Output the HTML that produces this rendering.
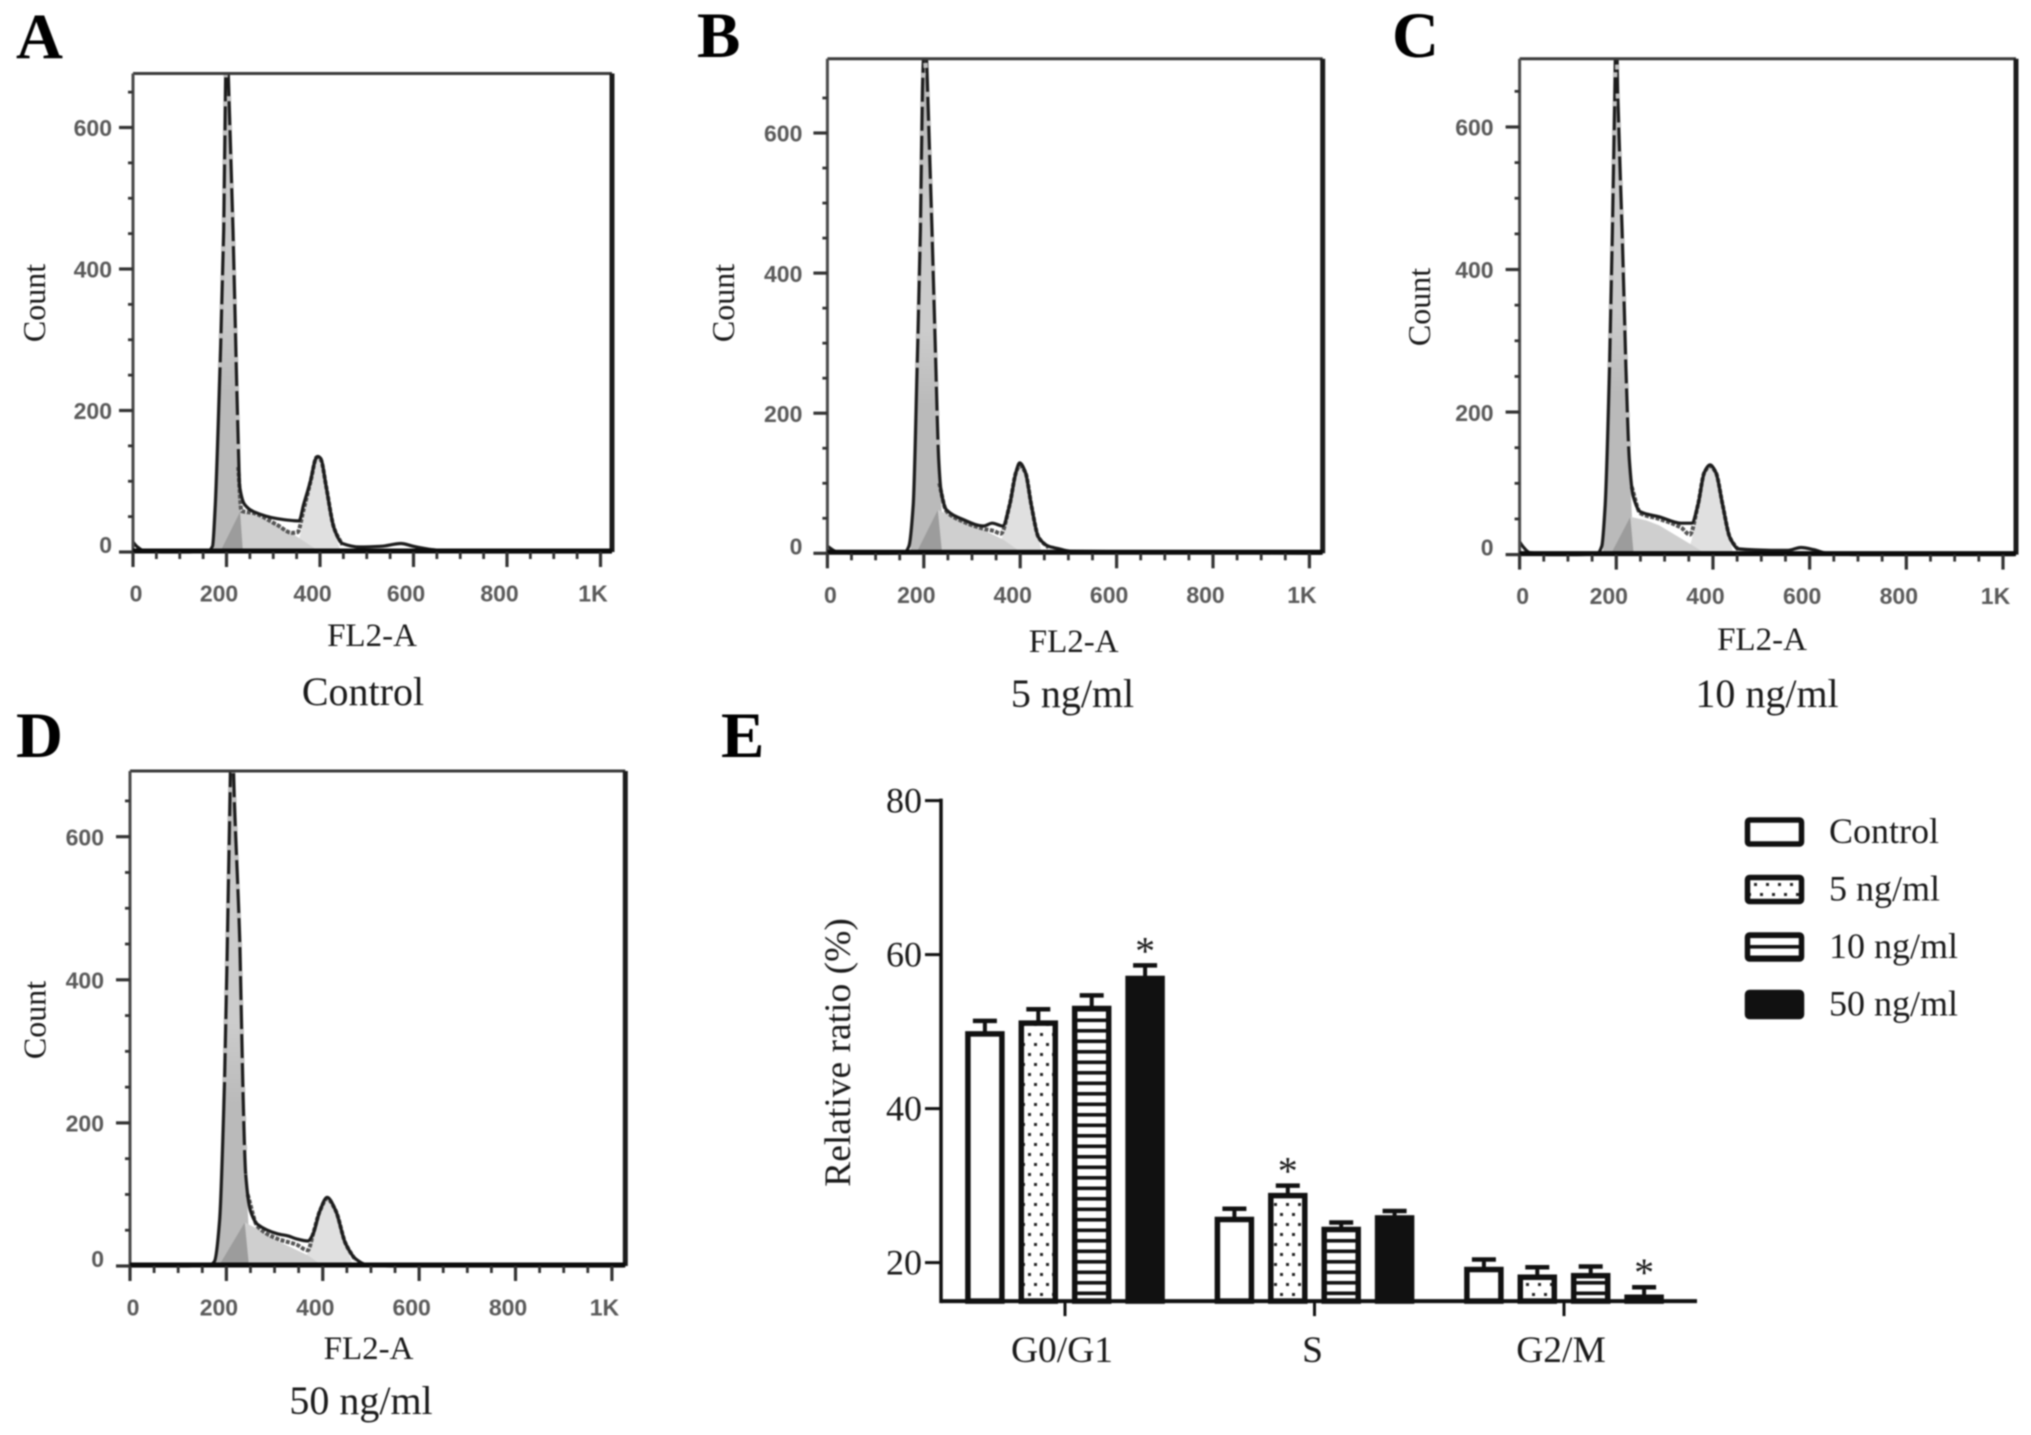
<!DOCTYPE html>
<html lang="en">
<head>
<meta charset="utf-8">
<title>Cell cycle flow cytometry figure</title>
<style>
html,body{margin:0;padding:0;background:#fff;}
#figure{position:absolute;left:0;top:0;display:block;filter:blur(0.7px);}
text{font-family:"Liberation Serif",serif;fill:#1a1a1a;}
.tick{font-family:"Liberation Sans",sans-serif;font-weight:bold;font-size:23px;fill:#5a5a5a;}
</style>
</head>
<body>
<svg id="figure" xmlns="http://www.w3.org/2000/svg" width="2031" height="1435" viewBox="0 0 2031 1435">
<defs>
<pattern id="dots" patternUnits="userSpaceOnUse" width="12" height="20">
<rect x="2" y="3" width="3" height="3" fill="#222"></rect>
<rect x="8" y="13" width="3" height="3" fill="#222"></rect>
</pattern>
<pattern id="stripes" patternUnits="userSpaceOnUse" width="10" height="10.5">
<rect x="0" y="0" width="10" height="3.6" fill="#111"></rect>
</pattern>
<linearGradient id="g1-shade" x1="0" y1="0" x2="0" y2="1">
<stop offset="0" stop-color="#aaa"></stop>
<stop offset="0.3" stop-color="#cccccc"></stop>
<stop offset="0.55" stop-color="#cccccc"></stop>
<stop offset="0.7" stop-color="#bababa"></stop>
<stop offset="1" stop-color="#bababa"></stop>
</linearGradient>
</defs>
<rect x="0" y="0" width="2031" height="1435" fill="#fff"></rect>
</svg>
<script>
// ---------- Histogram data: panel A (Control) ----------
const controlHistChannel = [0,8,25,60,120,160,170,176,186,194,198,200,204,214,221,226,228,239,258,309,355,365,379,391,395,402,413,430,448,485,530,573,600,633,700,1024];
const controlHistCount = [14,8,1,0,0,1,8,67,261,456,670,760,670,456,261,132,93,67,57,47,44,67,99,132,135,132,93,34,12,7,8,12,8,4,0,0];
const controlFitChannel = [225,232,258,309,340,352,365,380,393,402,413,430,448];
const controlFitCount = [120,58,55,38,27,28,60,100,134,130,93,34,10];
const controlG1Channel = [172,178,186,194,198,200,204,214,221,226,232,240];
const controlG1Count = [0,67,261,456,670,760,670,456,261,132,45,0];
const controlSChannel = [186,229,262,314,350,396];
const controlSCount = [0,57,52,38,22,2];
const controlOverlapChannel = [186,229,235];
const controlOverlapCount = [0,57,0];
const controlG2Channel = [345,360,375,385,393,400,413,430,445];
const controlG2Count = [0,30,85,120,134,125,90,30,0];

// ---------- Panel B (5 ng/ml) ----------
const dose5HistChannel = [0,20,60,120,160,169,178,186,193,197,200,205,208,217,225,231,236,247,279,324,342,364,378,391,399,411,423,438,459,477,504,1024];
const dose5HistCount = [10,2,0,0,1,10,69,265,462,659,710,710,659,462,265,134,88,62,49,39,43,39,69,115,129,115,69,23,10,7,3,0];
const dose5FitChannel = [232,247,279,324,345,360,378,391,399,411,423,438,459];
const dose5FitCount = [100,60,46,35,32,28,69,115,125,115,69,23,8];
const dose5G1Channel = [172,178,186,193,197,202,208,217,225,231,238,246];
const dose5G1Count = [0,69,265,462,659,710,659,462,265,134,50,0];
const dose5SChannel = [184,229,262,306,364,405];
const dose5SCount = [0,62,52,39,20,0];
const dose5OverlapChannel = [184,229,238];
const dose5OverlapCount = [0,62,0];
const dose5G2Channel = [350,364,378,391,399,411,423,438,445];
const dose5G2Count = [0,26,69,115,129,115,69,23,0];

// ---------- Panel C (10 ng/ml) ----------
const dose10HistChannel = [0,6,20,60,120,160,170,177,186,192,197,200,203,212,220,227,235,250,289,334,356,369,382,394,406,420,435,453,520,555,582,608,635,700,1024];
const dose10HistCount = [18,12,3,0,0,1,12,70,263,456,649,760,649,456,263,134,82,60,53,44,44,70,115,126,115,70,24,8,6,6,10,7,2,0,0];
const dose10FitChannel = [232,250,289,334,352,369,382,394,406,420,435,453];
const dose10FitCount = [95,58,50,38,28,70,115,124,115,70,24,6];
const dose10G1Channel = [172,177,186,192,197,200,203,212,220,227,233,240];
const dose10G1Count = [0,70,263,456,649,760,649,456,263,134,45,0];
const dose10SChannel = [188,229,262,289,360,387];
const dose10SCount = [0,53,48,41,12,0];
const dose10OverlapChannel = [188,229,236];
const dose10OverlapCount = [0,53,0];
const dose10G2Channel = [345,356,369,382,394,406,420,435,442];
const dose10G2Count = [0,21,70,115,126,115,70,24,0];

// ---------- Panel D (50 ng/ml) ----------
const dose50HistChannel = [0,60,120,165,175,186,196,202,207,211,217,228,234,240,250,265,306,328,345,369,380,394,409,427,447,468,490,540,1024];
const dose50HistCount = [0,0,0,1,6,64,257,449,642,760,642,449,257,128,77,58,45,42,38,35,45,77,96,77,32,10,2,0,0];
const dose50FitChannel = [244,265,306,345,369,380,394,409,427,447,468];
const dose50FitCount = [100,55,38,30,22,45,77,94,77,32,8];
const dose50G1Channel = [178,186,196,202,207,211,217,228,234,240,247,255];
const dose50G1Count = [0,64,257,449,642,760,642,449,257,128,45,0];
const dose50SChannel = [184,238,270,306,369,400];
const dose50SCount = [0,61,50,35,15,0];
const dose50OverlapChannel = [184,238,247];
const dose50OverlapCount = [0,61,0];
const dose50G2Channel = [355,369,380,394,409,427,447,463];
const dose50G2Count = [0,19,45,77,96,77,32,0];

// ---------- Histogram axis ticks ----------
const histXTicks = [0,200,400,600,800,1000];
const histXTickLabels = ["0","200","400","600","800","1K"];
const histYTicks = [0,200,400,600];
const histYTickLabels = ["0","200","400","600"];

// ---------- Bar chart data (panel E) ----------
const phases = ["G0/G1","S","G2/M"];
const doses = ["Control","5 ng/ml","10 ng/ml","50 ng/ml"];
const controlRatio = [49.7,25.6,19.1];
const dose5Ratio = [51.1,28.7,18.1];
const dose10Ratio = [53.0,24.3,18.3];
const dose50Ratio = [56.9,25.8,15.5];
const controlError = [1.7,1.4,1.3];
const dose5Error = [1.8,1.3,1.3];
const dose10Error = [1.7,0.9,1.2];
const dose50Error = [1.7,0.9,1.3];
const controlSignificant = [false,false,false];
const dose5Significant = [false,true,false];
const dose10Significant = [false,false,false];
const dose50Significant = [true,false,true];
const ratioTicks = [20,40,60,80];

const NS = "http://www.w3.org/2000/svg";
const root = document.getElementById("figure");

function make(tag, attrs, parent, text) {
  const node = document.createElementNS(NS, tag);
  for (const k in attrs) node.setAttribute(k, attrs[k]);
  if (text !== undefined) node.textContent = text;
  (parent || root).appendChild(node);
  return node;
}

// Monotone cubic path through the data points: rounds peaks without overshoot.
function curveFrom(channels, counts, sx, sy) {
  const xs = channels.map(sx);
  const ys = counts.map(sy);
  const n = xs.length;
  const slopes = [];
  for (let i = 0; i < n - 1; i++) slopes.push((ys[i + 1] - ys[i]) / Math.max(0.001, xs[i + 1] - xs[i]));
  const tangents = [];
  for (let i = 0; i < n; i++) {
    if (i === 0) tangents.push(slopes[0]);
    else if (i === n - 1) tangents.push(slopes[n - 2]);
    else if (slopes[i - 1] * slopes[i] <= 0) tangents.push(0);
    else tangents.push(2 * slopes[i - 1] * slopes[i] / (slopes[i - 1] + slopes[i]));
  }
  let d = "M" + xs[0].toFixed(1) + " " + ys[0].toFixed(1);
  for (let i = 0; i < n - 1; i++) {
    const h = (xs[i + 1] - xs[i]) / 3;
    d += "C" + (xs[i] + h).toFixed(1) + " " + (ys[i] + tangents[i] * h).toFixed(1) + " " +
         (xs[i + 1] - h).toFixed(1) + " " + (ys[i + 1] - tangents[i + 1] * h).toFixed(1) + " " +
         xs[i + 1].toFixed(1) + " " + ys[i + 1].toFixed(1);
  }
  return d;
}

function pointsFrom(channels, counts, sx, sy) {
  return channels.map(function (c, i) { return sx(c).toFixed(1) + "," + sy(counts[i]).toFixed(1); }).join(" ");
}

function panelLetter(letter, x, y) {
  const t = make("text", {x: x, y: y, "font-size": 65, "font-weight": "bold", style: "fill:#000"}, root, letter);
  
  
}

function drawHistogram(p) {
  const sx = function (v) { return p.x0 + v * p.kx; };
  const sy = function (c) { return p.y0 - c * p.ky; };

  const group = make("g", {});
  
  

  const clip = make("clipPath", {id: "clip-" + p.id}, group);
  make("rect", {x: p.left, y: p.top, width: p.right - p.left, height: p.y0 - p.top + 2}, clip);

  const marks = make("g", {"clip-path": "url(#clip-" + p.id + ")"}, group);
  
  

  const g2 = make("path", {d: curveFrom(p.g2C, p.g2N, sx, sy) + "Z", fill: "#e0e0e0"}, marks);
  
  

  const g1 = make("polygon", {points: pointsFrom(p.g1C, p.g1N, sx, sy), fill: "url(#g1-shade)"}, marks);
  
  

  const s = make("polygon", {points: pointsFrom(p.sC, p.sN, sx, sy), fill: "#cfcfcf"}, marks);
  
  

  const overlap = make("polygon", {points: pointsFrom(p.ovC, p.ovN, sx, sy), fill: "#9c9c9c"}, marks);
  
  

  const fit = make("path", {d: curveFrom(p.fitC, p.fitN, sx, sy), fill: "none", stroke: "#555", "stroke-width": 4, "stroke-dasharray": "4 1.5"}, marks);
  
  

  const hist = make("path", {d: curveFrom(p.histC, p.histN, sx, sy), fill: "none", stroke: "#1c1c1c", "stroke-width": 3.2, "stroke-linejoin": "round"}, marks);
  
  

  // Pale breaks over the G1 peak outline give it the dashed look of the scan.
  const peakC = p.g1C.filter(function (c, i) { return p.g1N[i] > 100; });
  const peakN = p.g1N.filter(function (n) { return n > 100; });
  const breaks = make("polyline", {points: pointsFrom(peakC, peakN, sx, sy), fill: "none", stroke: "#c0c0c0", "stroke-width": 4.4, "stroke-dasharray": "5 24"}, marks);
  
  

  // plot frame
  const top = make("line", {x1: p.left, x2: p.right, y1: p.top, y2: p.top, stroke: "#3a3a3a", "stroke-width": 3}, group);
  
  
  const leftEdge = make("line", {x1: p.left, x2: p.left, y1: p.top, y2: p.y0, stroke: "#4a4a4a", "stroke-width": 3}, group);
  
  
  const rightEdge = make("line", {x1: p.right, x2: p.right, y1: p.top, y2: p.y0, stroke: "#1c1c1c", "stroke-width": 5}, group);
  
  
  const bottom = make("line", {x1: p.left, x2: p.right, y1: p.y0 - 1, y2: p.y0 - 1, stroke: "#0c0c0c", "stroke-width": 5}, group);
  
  

  // x ticks: a major every 200 and minors every 50
  for (let v = 0; v <= 1000; v += 50) {
    const major = v % 200 === 0;
    const t = make("line", {x1: sx(v), x2: sx(v), y1: p.y0, y2: p.y0 + (major ? 15 : 7), stroke: "#333", "stroke-width": major ? 3.2 : 2.8}, group);
    
    
  }
  histXTicks.forEach(function (v, i) {
    const t = make("text", {x: sx(v) + (v === 0 ? 3 : -7.5), y: p.y0 + 49.5, "text-anchor": "middle", "class": "tick"}, group, histXTickLabels[i]);
    
    
  });

  // y ticks
  for (let c = 0; c <= 650; c += 50) {
    const major = c % 200 === 0;
    const t = make("line", {x1: p.left - (major ? 14 : 5), x2: p.left, y1: sy(c), y2: sy(c), stroke: "#333", "stroke-width": major ? 3.2 : 2.8}, group);
    
    
  }
  histYTicks.forEach(function (c, i) {
    const t = make("text", {x: p.left - p.yLabelGap, y: sy(c) + (c === 0 ? 1 : 8.7), "text-anchor": "end", "class": "tick"}, group, histYTickLabels[i]);
    
    
  });

  const xTitle = make("text", {x: p.xTitleX, y: p.xTitleY, "text-anchor": "middle", "font-size": 33}, group, "FL2-A");
  
  

  const yTitle = make("text", {transform: "translate(" + p.yTitleX + " " + p.yTitleY + ") rotate(-90)", "text-anchor": "middle", "font-size": 32}, group, "Count");
  
  

  const caption = make("text", {x: p.capX, y: p.capY, "text-anchor": "middle", "font-size": 40}, group, p.caption);
  
  
}

panelLetter("A", 16, 58);
panelLetter("B", 697, 57);
panelLetter("C", 1392, 57);
panelLetter("D", 16, 757);
panelLetter("E", 721, 757);

drawHistogram({id:"control", caption:"Control", yLabelGap:21, left:133, right:612, top:73.5, x0:133, kx:0.4675, y0:552, ky:0.7075,
  xTitleX:372, xTitleY:646, yTitleX:45, yTitleY:303, capX:363, capY:705,
  histC:controlHistChannel, histN:controlHistCount, fitC:controlFitChannel, fitN:controlFitCount,
  g1C:controlG1Channel, g1N:controlG1Count, sC:controlSChannel, sN:controlSCount,
  ovC:controlOverlapChannel, ovN:controlOverlapCount, g2C:controlG2Channel, g2N:controlG2Count});

drawHistogram({id:"5-ng-ml", caption:"5 ng/ml", yLabelGap:25, left:827.4, right:1322.7, top:58.8, x0:827.4, kx:0.482, y0:553.3, ky:0.7005,
  xTitleX:1073.7, xTitleY:652, yTitleX:734, yTitleY:303, capX:1072.5, capY:707,
  histC:dose5HistChannel, histN:dose5HistCount, fitC:dose5FitChannel, fitN:dose5FitCount,
  g1C:dose5G1Channel, g1N:dose5G1Count, sC:dose5SChannel, sN:dose5SCount,
  ovC:dose5OverlapChannel, ovN:dose5OverlapCount, g2C:dose5G2Channel, g2N:dose5G2Count});

drawHistogram({id:"10-ng-ml", caption:"10 ng/ml", yLabelGap:26, left:1519.6, right:2016, top:58.8, x0:1519.6, kx:0.4834, y0:554.6, ky:0.7127,
  xTitleX:1762, xTitleY:650, yTitleX:1430, yTitleY:307, capX:1767, capY:707,
  histC:dose10HistChannel, histN:dose10HistCount, fitC:dose10FitChannel, fitN:dose10FitCount,
  g1C:dose10G1Channel, g1N:dose10G1Count, sC:dose10SChannel, sN:dose10SCount,
  ovC:dose10OverlapChannel, ovN:dose10OverlapCount, g2C:dose10G2Channel, g2N:dose10G2Count});

drawHistogram({id:"50-ng-ml", caption:"50 ng/ml", yLabelGap:26, left:130, right:625.3, top:771, x0:130, kx:0.4819, y0:1266, ky:0.7155,
  xTitleX:368.6, xTitleY:1359, yTitleX:45.5, yTitleY:1020, capX:361, capY:1414,
  histC:dose50HistChannel, histN:dose50HistCount, fitC:dose50FitChannel, fitN:dose50FitCount,
  g1C:dose50G1Channel, g1N:dose50G1Count, sC:dose50SChannel, sN:dose50SCount,
  ovC:dose50OverlapChannel, ovN:dose50OverlapCount, g2C:dose50G2Channel, g2N:dose50G2Count});

// ---------- Panel E: grouped bar chart ----------
(function () {
  const baseValue = 15;
  const yAt20 = 1262.6;
  const pxPerUnit = 7.7;
  const axisX = 941;
  const groupStart = 1065;
  const groupStep = 249.5;
  const barPitch = 53.4;
  const barWidth = 34;
  const sy = function (v) { return yAt20 - (v - 20) * pxPerUnit; };
  const baseY = sy(baseValue);
  const sx = function (g, d) { return groupStart + g * groupStep + (d - 1.5) * barPitch; };

  const ratios = [controlRatio, dose5Ratio, dose10Ratio, dose50Ratio];
  const errors = [controlError, dose5Error, dose10Error, dose50Error];
  const flags = [controlSignificant, dose5Significant, dose10Significant, dose50Significant];
  const fills = ["#fff", "url(#dots)", "url(#stripes)", "#111"];

  const chart = make("g", {});
  
  

  phases.forEach(function (phase, g) {
    doses.forEach(function (dose, d) {
      const val = ratios[d][g];
      const errTop = sy(val + errors[d][g]);
      const cx = sx(g, d);
      const stem = make("line", {x1: cx, x2: cx, y1: sy(val), y2: errTop, stroke: "#111", "stroke-width": 4}, chart);
      
      
      const cap = make("line", {x1: cx - 12, x2: cx + 12, y1: errTop, y2: errTop, stroke: "#111", "stroke-width": 4.5}, chart);
      
      
      const top = sy(val);
      const bar = make("rect", {x: cx - barWidth / 2, y: top, width: barWidth, height: Math.max(0, baseY - top), fill: fills[d], stroke: "#111", "stroke-width": 5.5}, chart);
      
      
      if (flags[d][g]) {
        const star = make("text", {x: cx, y: errTop - 1, "text-anchor": "middle", "font-size": 40}, chart, "*");
        
        
      }
    });
    const tick = make("line", {x1: groupStart + g * groupStep, x2: groupStart + g * groupStep, y1: baseY, y2: baseY + 15, stroke: "#111", "stroke-width": 3}, chart);
    
    
    const label = make("text", {x: groupStart + g * groupStep - 3 + (g === 1 ? 1 : 0), y: 1362, "text-anchor": "middle", "font-size": 37.5}, chart, phase);
    
    
  });

  const yAxis = make("line", {x1: axisX, x2: axisX, y1: sy(80) - 2, y2: baseY + 2, stroke: "#111", "stroke-width": 3.5}, chart);
  
  
  const xAxis = make("line", {x1: axisX, x2: 1697, y1: baseY, y2: baseY, stroke: "#111", "stroke-width": 4}, chart);
  
  

  ratioTicks.forEach(function (v) {
    const t = make("line", {x1: axisX - 16, x2: axisX, y1: sy(v), y2: sy(v), stroke: "#111", "stroke-width": 3}, chart);
    
    
    const l = make("text", {x: 922, y: sy(v) + 12, "text-anchor": "end", "font-size": 36}, chart, String(v));
    
    
  });

  const yTitle = make("text", {transform: "translate(850 1052.5) rotate(-90)", "text-anchor": "middle", "font-size": 37.5}, chart, "Relative ratio (%)");
  
  

  const legend = make("g", {});
  
  
  doses.forEach(function (dose, d) {
    const rowY = 820 + d * 57.5;
    const swatch = make("rect", {x: 1747.5, y: rowY, width: 54, height: 24, rx: 2, fill: fills[d], stroke: "#111", "stroke-width": 5.5}, legend);
    
    
    const text = make("text", {x: 1829, y: rowY + 23, "font-size": 36}, legend, dose);
    
    
  });
})();
</script>
</body>
</html>
